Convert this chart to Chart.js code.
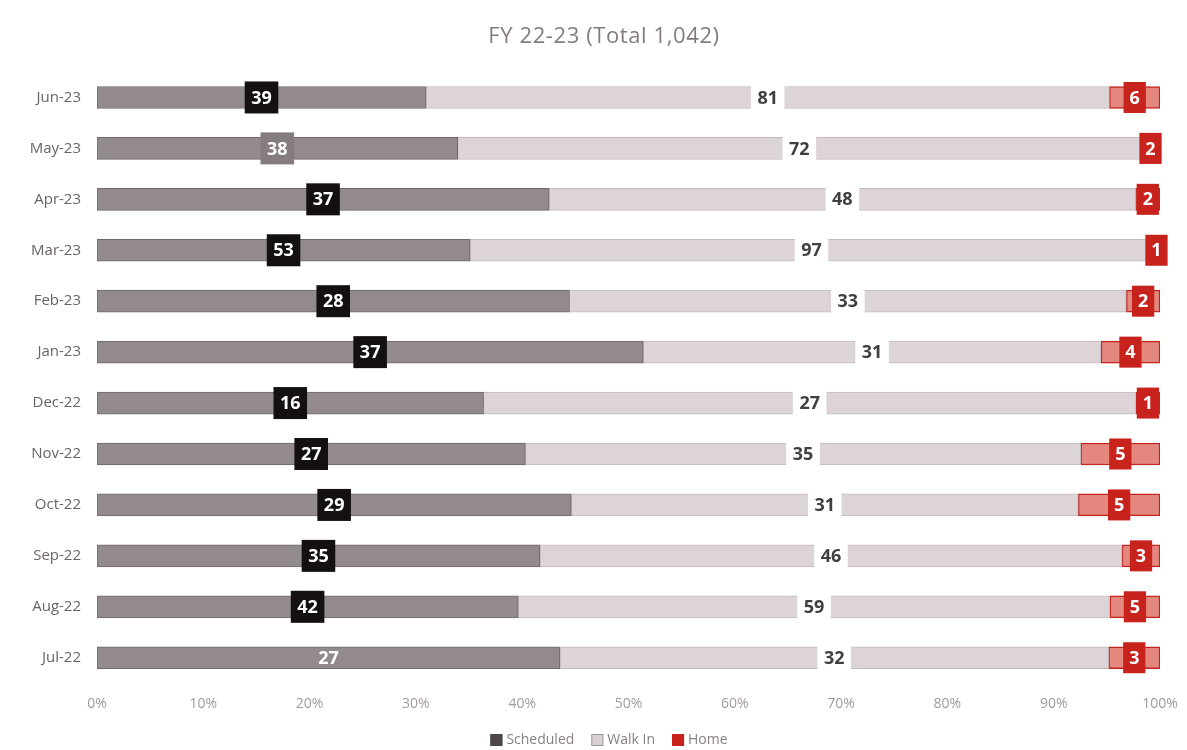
<!DOCTYPE html>
<html>
<head>
<meta charset="utf-8">
<script src="https://cdn.jsdelivr.net/npm/chart.js@4.4.0/dist/chart.umd.min.js"></script>
<style>
  html, body { margin: 0; padding: 0; background: #fff; }
  #wrap { width: 1187px; height: 750px; }
</style>
</head>
<body>
<div id="wrap"><canvas id="c" width="1187" height="750"></canvas></div>
<script>
// months, top to bottom as drawn
const months = ['Jun-23', 'May-23', 'Apr-23', 'Mar-23', 'Feb-23', 'Jan-23',
                'Dec-22', 'Nov-22', 'Oct-22', 'Sep-22', 'Aug-22', 'Jul-22'];
const scheduled = [39, 38, 37, 53, 28, 37, 16, 27, 29, 35, 42, 27];
const walkIn    = [81, 72, 48, 97, 33, 31, 27, 35, 31, 46, 59, 32];
const home      = [6, 2, 2, 1, 2, 4, 1, 5, 5, 3, 5, 3];
const xTicks = [0, 10, 20, 30, 40, 50, 60, 70, 80, 90, 100];
const titleText = 'FY 22-23 (Total 1,042)';

// share of each month's total, for the 100% stack
const totals = months.map((m, i) => scheduled[i] + walkIn[i] + home[i]);
const pct = arr => arr.map((v, i) => v / totals[i] * 100);

const FONT = '"Open Sans", "DejaVu Sans", sans-serif';

// value boxes drawn over each segment
const labelStyle = [
    { bg: i => (i === 1 ? '#847c80' : i === 11 ? null : '#141012'), color: '#fff', pad: 13, h: 32 },
    { bg: () => '#ffffff', color: '#404040', pad: 13, h: 26 },
    { bg: () => '#c8221c', color: '#fff', pad: 12, h: 31 }
];

const valueLabels = {
    id: 'valueLabels',
    afterDatasetsDraw(chart) {
        const ctx = chart.ctx;
        ctx.save();
        ctx.font = 'bold 18px ' + FONT;
        ctx.textAlign = 'center';
        ctx.textBaseline = 'middle';
        chart.data.datasets.forEach((ds, d) => {
            const meta = chart.getDatasetMeta(d);
            const st = labelStyle[d];
            meta.data.forEach((bar, i) => {
                const txt = String(ds.raw[i]);
                const cx = (bar.x + bar.base) / 2;
                const cy = bar.y;
                const w = ctx.measureText(txt).width + st.pad;
                const bg = st.bg(i);
                if (bg) {
                    ctx.fillStyle = bg;
                    ctx.fillRect(cx - w / 2, cy - st.h / 2, w, st.h);
                }
                ctx.fillStyle = st.color;
                ctx.fillText(txt, cx, cy + 1);
            });
        });
        ctx.restore();
    }
};

// title and legend sit a little right of the canvas centre, as in the original
const legendFill = ['#4f484b', '#d9d2d4', '#c8221c'];
const legendEdge = ['#4f484b', '#9e9699', '#c8221c'];

const titleAndLegend = {
    id: 'titleAndLegend',
    afterDraw(chart) {
        const ctx = chart.ctx;
        ctx.save();
        ctx.textBaseline = 'middle';

        ctx.font = '22px ' + FONT;
        ctx.fillStyle = '#857b7f';
        ctx.textAlign = 'center';
        if ('letterSpacing' in ctx) ctx.letterSpacing = '0.6px';
        ctx.fillText(titleText, 604, 37);
        if ('letterSpacing' in ctx) ctx.letterSpacing = '0px';

        ctx.font = '14px ' + FONT;
        ctx.textAlign = 'left';
        const names = chart.data.datasets.map(ds => ds.label);
        const box = 12, gap = 4, spacing = 17;
        const widths = names.map(n => box + gap + ctx.measureText(n).width);
        const full = widths.reduce((a, b) => a + b, 0) + spacing * (names.length - 1);
        let x = 609 - full / 2;
        const y = 740;
        names.forEach((n, k) => {
            ctx.fillStyle = legendFill[k];
            ctx.fillRect(x, y - box / 2, box, box);
            ctx.strokeStyle = legendEdge[k];
            ctx.lineWidth = 1;
            ctx.strokeRect(x + 0.5, y - box / 2 + 0.5, box - 1, box - 1);
            ctx.fillStyle = '#8a8083';
            ctx.fillText(n, x + box + gap, y);
            x += widths[k] + spacing;
        });
        ctx.restore();
    }
};

new Chart(document.getElementById('c'), {
    type: 'bar',
    data: {
        labels: months,
        datasets: [
            {
                label: 'Scheduled',
                data: pct(scheduled),
                raw: scheduled,
                backgroundColor: '#928a8d',
                borderColor: '#6f676a',
                borderWidth: 1,
                borderSkipped: false
            },
            {
                label: 'Walk In',
                data: pct(walkIn),
                raw: walkIn,
                backgroundColor: '#ddd4d7',
                borderColor: '#c4babe',
                borderWidth: 1,
                borderSkipped: false
            },
            {
                label: 'Home',
                data: pct(home),
                raw: home,
                backgroundColor: '#e4877f',
                borderColor: '#c4241e',
                borderWidth: 1.5,
                borderSkipped: false
            }
        ]
    },
    options: {
        indexAxis: 'y',
        responsive: false,
        animation: false,
        layout: { padding: { left: 0, right: 27, top: 72, bottom: 34 } },
        datasets: { bar: { barThickness: 22 } },
        plugins: {
            title: { display: false },
            legend: { display: false },
            tooltip: { enabled: false }
        },
        scales: {
            x: {
                stacked: true,
                min: 0,
                max: 100,
                grid: { display: false },
                border: { display: false },
                afterBuildTicks: s => { s.ticks = xTicks.map(v => ({ value: v })); },
                ticks: {
                    color: '#a39a9d',
                    font: { family: FONT, size: 14 },
                    padding: 4,
                    maxRotation: 0,
                    callback: v => v + '%'
                }
            },
            y: {
                stacked: true,
                grid: { display: false },
                border: { display: false },
                afterFit: s => { s.width = 97; },
                ticks: {
                    color: '#6b6266',
                    font: { family: FONT, size: 15 },
                    padding: 8
                }
            }
        }
    },
    plugins: [valueLabels, titleAndLegend]
});
</script>
</body>
</html>
